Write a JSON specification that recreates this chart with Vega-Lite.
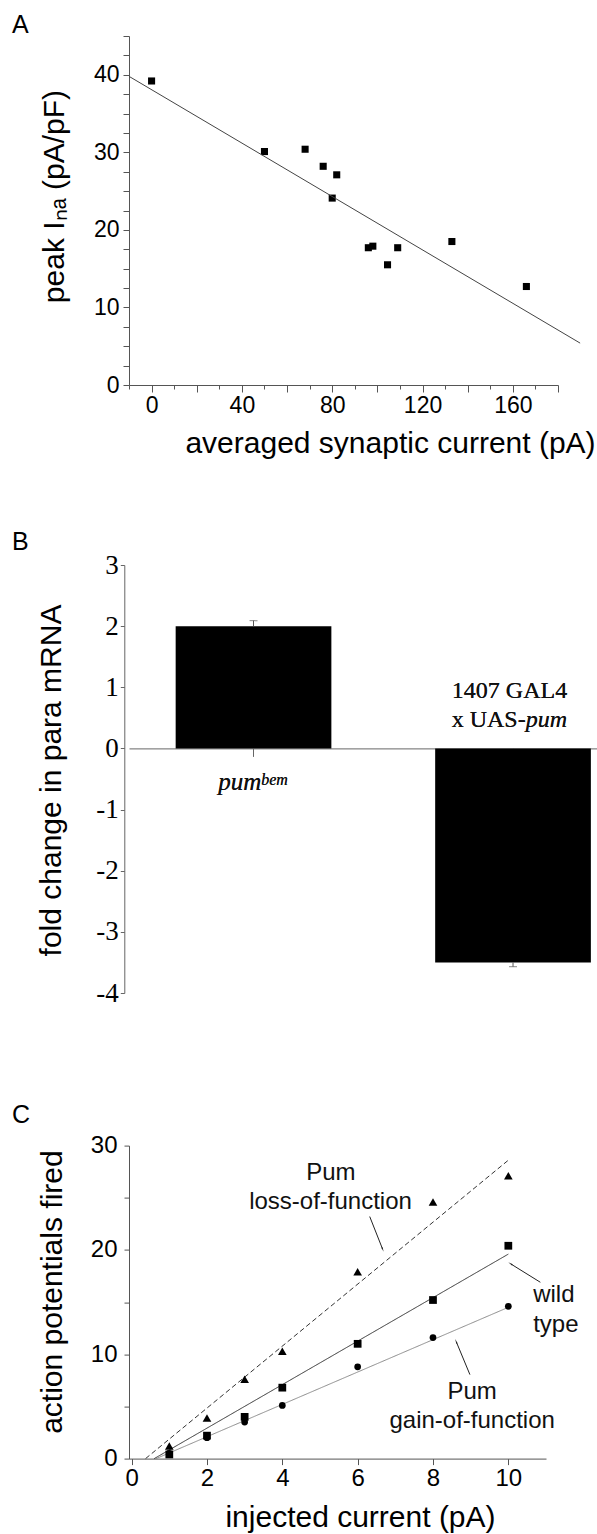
{
  "$schema": "https://vega.github.io/schema/vega-lite/v6.json",
  "padding": {"left": 12, "top": 13, "right": 0, "bottom": 0},
  "spacing": 180,
  "bounds": "flush",
  "config": {
    "view": {"stroke": null},
    "font": "Liberation Sans",
    "axis": {"grid": false, "domainColor": "#555", "tickColor": "#555", "labelColor": "black", "titleColor": "black", "titleFontWeight": "normal", "labelFontSize": 23, "titleFontSize": 30, "labelFont": "Liberation Sans", "titleFont": "Liberation Sans", "labelOverlap": false, "labelFlush": false, "titleBaseline": "alphabetic", "titleAlign": "center"},
    "title": {"fontSize": 25, "fontWeight": "normal", "anchor": "start", "frame": "group", "color": "black", "font": "Liberation Sans", "baseline": "alphabetic"}
  },
  "vconcat": [
    {
      "width": 429,
      "height": 349,
      "title": {"text": "A", "dx": -117, "offset": -13},
      "encoding": {
        "x": {"field": "current", "type": "quantitative", "scale": {"domain": [-10, 180], "nice": false, "zero": false},
          "axis": {"values": [-10, 0, 10, 20, 30, 40, 50, 60, 70, 80, 90, 100, 110, 120, 130, 140, 150, 160, 170, 180],
            "labelExpr": "(datum.value % 40 === 0 && datum.value >= 0) ? datum.label : ''",
            "tickSize": {"condition": {"test": "datum.value % 20 === 0", "value": 7}, "value": 4},
            "labelPadding": 2, "title": "averaged synaptic current (pA)", "titleX": 261, "titleY": 67}},
        "y": {"field": "ina", "type": "quantitative", "scale": {"domain": [0, 45], "nice": false},
          "axis": {"values": [0, 2.5, 5, 7.5, 10, 12.5, 15, 17.5, 20, 22.5, 25, 27.5, 30, 32.5, 35, 37.5, 40, 42.5, 45],
            "labelExpr": "datum.value % 10 === 0 ? datum.label : ''",
            "tickSize": 6, "labelPadding": 4, "title": "peak I\u2099\u2090 (pA/pF)", "titleX": -66, "titleY": 160}}
      },
      "layer": [
        {
          "data": {"values": [
            {"current": 0, "ina": 39.2}, {"current": 50, "ina": 30.1}, {"current": 68, "ina": 30.4},
            {"current": 76, "ina": 28.2}, {"current": 82, "ina": 27.1}, {"current": 80, "ina": 24.1},
            {"current": 96, "ina": 17.7}, {"current": 98, "ina": 17.9}, {"current": 104.5, "ina": 15.5},
            {"current": 109, "ina": 17.7}, {"current": 133, "ina": 18.5}, {"current": 166, "ina": 12.7}
          ]},
          "mark": {"type": "point", "shape": "square", "filled": true, "size": 50, "color": "black", "opacity": 1}
        },
        {
          "data": {"values": [{"current": -10, "ina": 39.8}, {"current": 189.8, "ina": 5.4}]},
          "mark": {"type": "line", "color": "#444", "strokeWidth": 1}
        }
      ]
    },
    {
      "spacing": 152.6,
      "bounds": "flush",
      "vconcat": [
        {
          "width": 468,
          "height": 428,
          "title": {"text": "B", "dx": -117, "offset": -3.5},
          "data": {"values": [
            {"genotype": "pumbem", "fold": 2.0, "errEnd": 2.09},
            {"genotype": "1407 GAL4 x UAS-pum", "fold": -3.5, "errEnd": -3.57}
          ]},
          "encoding": {
            "x": {"field": "genotype", "type": "nominal", "sort": null,
              "scale": {"domain": ["pumbem", "1407 GAL4 x UAS-pum"], "paddingInner": 0.4, "paddingOuter": 0.1017, "align": 0.884, "round": false},
              "axis": {"labels": false, "title": null, "tickSize": 8, "offset": -244.6, "domainColor": "#666", "tickColor": "#666"}}
          },
          "layer": [
            {
              "mark": {"type": "bar", "color": "black"},
              "encoding": {
                "y": {"field": "fold", "type": "quantitative", "scale": {"domain": [-4, 3], "nice": false},
                  "axis": {"values": [-4, -3.5, -3, -2.5, -2, -1.5, -1, -0.5, 0, 0.5, 1, 1.5, 2, 2.5, 3],
                    "labelExpr": "datum.value % 1 === 0 ? '' + datum.value : ''",
                    "labelFont": "Liberation Serif", "labelFontSize": 27, "tickSize": 4, "labelPadding": 2,
                    "domainColor": "#666", "tickColor": "#666", "offset": 4.7,
                    "title": "fold change in para mRNA", "titleX": -64.3, "titleY": 215}}
              }
            },
            {
              "mark": {"type": "rule", "color": "#555", "strokeWidth": 1},
              "encoding": {"y": {"field": "fold", "type": "quantitative"}, "y2": {"field": "errEnd"}}
            },
            {
              "mark": {"type": "tick", "orient": "horizontal", "size": 8, "thickness": 1, "color": "#555"},
              "encoding": {"y": {"field": "errEnd", "type": "quantitative"}}
            },
            {
              "mark": {"type": "text", "font": "Liberation Serif", "fontSize": 24, "align": "center", "baseline": "alphabetic", "dx": -3.5, "color": "#111"},
              "encoding": {"x": {"datum": "1407 GAL4 x UAS-pum"}, "y": {"datum": 0.817}, "text": {"value": "1407 GAL4"}}
            },
            {
              "mark": {"type": "text", "font": "Liberation Serif", "fontSize": 24, "align": "right", "baseline": "alphabetic", "dx": 12.7, "color": "#111"},
              "encoding": {"x": {"datum": "1407 GAL4 x UAS-pum"}, "y": {"datum": 0.353}, "text": {"value": "x UAS-"}}
            },
            {
              "mark": {"type": "text", "font": "Liberation Serif", "fontSize": 24, "fontStyle": "italic", "align": "left", "baseline": "alphabetic", "dx": 12.7, "color": "#111"},
              "encoding": {"x": {"datum": "1407 GAL4 x UAS-pum"}, "y": {"datum": 0.353}, "text": {"value": "pum"}}
            },
            {
              "mark": {"type": "text", "font": "Liberation Serif", "fontSize": 25, "fontStyle": "italic", "align": "right", "baseline": "alphabetic", "dx": 7.7, "color": "#111"},
              "encoding": {"x": {"datum": "pumbem"}, "y": {"datum": -0.68}, "text": {"value": "pum"}}
            },
            {
              "mark": {"type": "text", "font": "Liberation Serif", "fontSize": 16, "fontStyle": "italic", "align": "left", "baseline": "alphabetic", "dx": 7.7, "color": "#111"},
              "encoding": {"x": {"datum": "pumbem"}, "y": {"datum": -0.598}, "text": {"value": "bem"}}
            }
          ]
        },
        {
          "width": 417,
          "height": 313,
          "title": {"text": "C", "dx": -117, "offset": 6},
          "layer": [
            {
              "data": {"values": [
                {"series": "loss", "current": 0.37, "ap": 0}, {"series": "loss", "current": 10, "ap": 28.6},
                {"series": "wild", "current": 0.6, "ap": 0}, {"series": "wild", "current": 10, "ap": 19.6},
                {"series": "gain", "current": 0.65, "ap": 0}, {"series": "gain", "current": 10, "ap": 14.5}
              ]},
              "mark": {"type": "line", "strokeWidth": 1},
              "encoding": {
                "x": {"field": "current", "type": "quantitative", "scale": {"domain": [-0.07, 11], "nice": false, "zero": false},
                  "axis": {"values": [0, 1, 2, 3, 4, 5, 6, 7, 8, 9, 10, 11],
                    "labelExpr": "datum.value % 2 === 0 && datum.value <= 10 ? datum.label : ''",
                    "tickSize": {"condition": {"test": "datum.value % 2 === 0", "value": 6}, "value": 4},
                    "labelFontSize": 24, "labelPadding": 2, "title": "injected current (pA)", "titleX": 231, "titleY": 68}},
                "y": {"field": "ap", "type": "quantitative", "scale": {"domain": [0, 30], "nice": false},
                  "axis": {"values": [0, 2.5, 5, 7.5, 10, 12.5, 15, 17.5, 20, 22.5, 25, 27.5, 30],
                    "labelExpr": "datum.value % 10 === 0 ? datum.label : ''",
                    "labelFontSize": 24, "tickSize": 5, "labelPadding": 7, "title": "action potentials fired", "titleX": -67.3, "titleY": 146}},
                "detail": {"field": "series"},
                "color": {"field": "series", "type": "nominal", "legend": null, "scale": {"domain": ["loss", "wild", "gain"], "range": ["#333", "#333", "#8a8a8a"]}},
                "strokeDash": {"field": "series", "type": "nominal", "legend": null, "scale": {"domain": ["loss", "wild", "gain"], "range": [[5, 3], [1, 0], [1, 0]]}}
              }
            },
            {
              "data": {"values": [
                {"series": "loss", "current": 1, "ap": 1.2}, {"series": "loss", "current": 2, "ap": 3.9}, {"series": "loss", "current": 3, "ap": 7.6},
                {"series": "loss", "current": 4, "ap": 10.3}, {"series": "loss", "current": 6, "ap": 17.9}, {"series": "loss", "current": 8, "ap": 24.6},
                {"series": "loss", "current": 10, "ap": 27.1},
                {"series": "wild", "current": 1, "ap": 0.4}, {"series": "wild", "current": 2, "ap": 2.2}, {"series": "wild", "current": 3, "ap": 4.0},
                {"series": "wild", "current": 4, "ap": 6.8}, {"series": "wild", "current": 6, "ap": 11.0}, {"series": "wild", "current": 8, "ap": 15.2},
                {"series": "wild", "current": 10, "ap": 20.4},
                {"series": "gain", "current": 1, "ap": 0.5}, {"series": "gain", "current": 2, "ap": 2.0}, {"series": "gain", "current": 3, "ap": 3.5},
                {"series": "gain", "current": 4, "ap": 5.1}, {"series": "gain", "current": 6, "ap": 8.8}, {"series": "gain", "current": 8, "ap": 11.6},
                {"series": "gain", "current": 10, "ap": 14.6}
              ]},
              "mark": {"type": "point", "filled": true, "color": "black", "opacity": 1},
              "encoding": {
                "x": {"field": "current", "type": "quantitative"},
                "y": {"field": "ap", "type": "quantitative"},
                "shape": {"field": "series", "type": "nominal", "legend": null, "scale": {"domain": ["loss", "wild", "gain"], "range": ["triangle-up", "square", "circle"]}},
                "size": {"field": "series", "type": "nominal", "legend": null, "scale": {"domain": ["loss", "wild", "gain"], "range": [75, 45, 50]}}
              }
            },
            {
              "data": {"values": [
                {"x": 6.32, "y": 23.2, "x2": 6.66, "y2": 20.1, "angle": 159},
                {"x": 10.85, "y": 16.9, "x2": 10.07, "y2": 18.65, "angle": 302},
                {"x": 8.98, "y": 8.05, "x2": 8.62, "y2": 11.18, "angle": 338}
              ]},
              "layer": [
                {
                  "mark": {"type": "rule", "color": "#222", "strokeWidth": 1},
                  "encoding": {
                    "x": {"field": "x", "type": "quantitative"}, "y": {"field": "y", "type": "quantitative"},
                    "x2": {"field": "x2"}, "y2": {"field": "y2"}
                  }
                },
                {
                  "mark": {"type": "point", "shape": "wedge", "filled": true, "size": 30, "color": "#222", "opacity": 1},
                  "encoding": {
                    "x": {"field": "x2", "type": "quantitative"}, "y": {"field": "y2", "type": "quantitative"},
                    "angle": {"field": "angle", "type": "quantitative", "scale": null}
                  }
                }
              ]
            },
            {
              "data": {"values": [
                {"label": "Pum", "x": 5.29, "y": 27.4},
                {"label": "loss-of-function", "x": 5.28, "y": 24.6},
                {"label": "Pum", "x": 9.04, "y": 6.4},
                {"label": "gain-of-function", "x": 9.04, "y": 3.57}
              ]},
              "mark": {"type": "text", "fontSize": 24, "baseline": "middle", "align": "center", "color": "#111"},
              "encoding": {
                "x": {"field": "x", "type": "quantitative"}, "y": {"field": "y", "type": "quantitative"},
                "text": {"field": "label"}
              }
            },
            {
              "data": {"values": [
                {"label": "wild", "x": 10.66, "y": 15.7},
                {"label": "type", "x": 10.66, "y": 12.8}
              ]},
              "mark": {"type": "text", "fontSize": 24, "baseline": "middle", "align": "left", "color": "#111"},
              "encoding": {
                "x": {"field": "x", "type": "quantitative"}, "y": {"field": "y", "type": "quantitative"},
                "text": {"field": "label"}
              }
            }
          ]
        }
      ]
    }
  ]
}
